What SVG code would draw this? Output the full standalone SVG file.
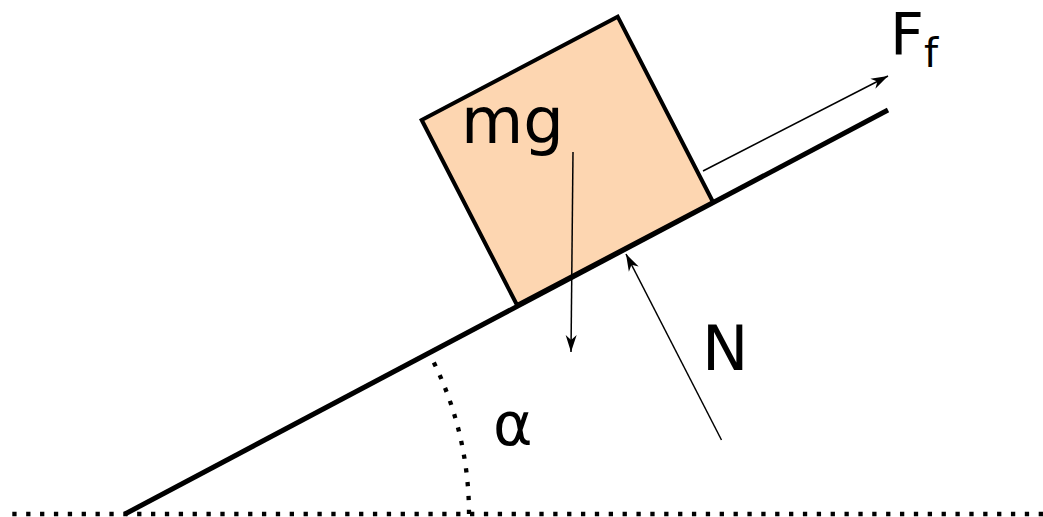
<svg xmlns="http://www.w3.org/2000/svg" width="1043" height="517" viewBox="0 0 1043 517">
<defs>
<marker id="arr" markerUnits="userSpaceOnUse" viewBox="-18 -7 20 14" refX="0" refY="0" markerWidth="20" markerHeight="14" orient="auto">
<path d="M0,0 L-17,-5.5 L-12,0 L-17,5.5 Z" fill="#000"/>
</marker>
</defs>
<style>
.dot{fill:none;stroke:#000;stroke-width:4.3;stroke-dasharray:4.3 9.57}
.force{fill:none;stroke:#000;stroke-width:1.5;marker-end:url(#arr)}
.lbl{font-family:"DejaVu Sans","Liberation Sans",sans-serif;fill:#000}
</style>
<rect width="1043" height="517" fill="#fff"/>
<g id="ground">
<line class="dot" x1="12.3" y1="514" x2="1043" y2="514"/>
<path class="dot" d="M469,514 A344,344 0 0,0 428.9,352.8"/>
<line x1="125" y1="514" x2="888" y2="110" stroke="#000" stroke-width="5"/>
</g>
<g id="connectors">
<line class="force" x1="703" y1="171" x2="888" y2="76"/>
</g>
<g id="block">
<polygon points="421.7,120 617.7,16.7 713,202 517,305" fill="#fdd6b1" stroke="#000" stroke-width="4" stroke-linejoin="miter"/>
</g>
<g id="forces">
<line class="force" x1="573" y1="152" x2="571" y2="352"/>
<line class="force" x1="721.5" y1="440" x2="626" y2="254"/>
</g>
<g id="labels">
<text class="lbl" x="461" y="143" font-size="64">mg</text>
<text class="lbl" x="702" y="370" font-size="62">N</text>
<text class="lbl" x="493" y="445" font-size="60">α</text>
<text class="lbl" x="890" y="55" font-size="59">F</text>
<text class="lbl" x="924" y="67" font-size="40">f</text>
</g>
</svg>
